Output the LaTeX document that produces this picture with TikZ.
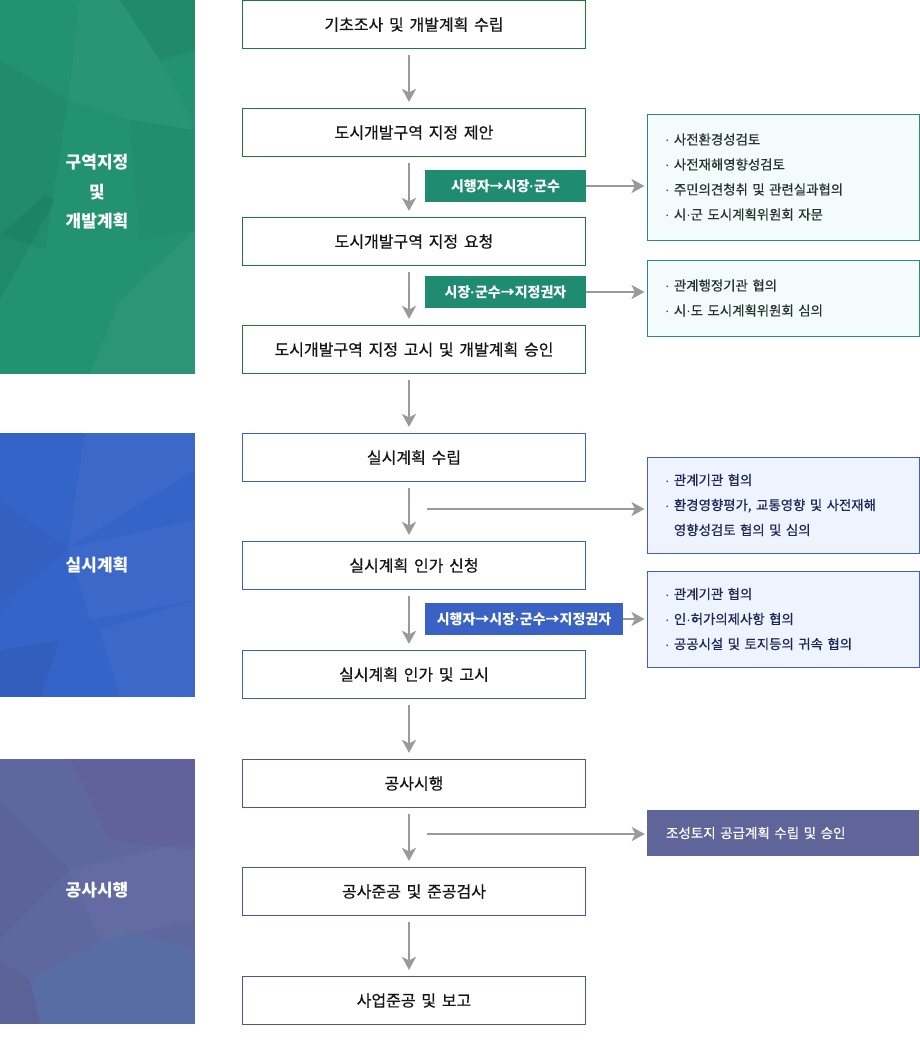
\documentclass[tikz,border=0pt]{standalone}
\usepackage{fontspec}
\setmainfont{Noto Sans CJK KR}
\newfontfamily\krmed{Noto Sans CJK KR}[FakeBold=0.5,WordSpace=1.6]
\newfontfamily\latinf{Liberation Sans}
\newcommand\mdot{{\latinf ·}}
\usetikzlibrary{arrows.meta}
\definecolor{gpanel}{HTML}{22926F}
\definecolor{bpanel}{HTML}{3564C8}
\definecolor{ppanel}{HTML}{5E679F}
\definecolor{gtag}{HTML}{1F8C72}
\definecolor{btag}{HTML}{3A62C4}
\definecolor{pbox}{HTML}{5F6599}
\definecolor{gborder}{HTML}{1C7A36}
\definecolor{bborder}{HTML}{3B5FC6}
\definecolor{pborder}{HTML}{4B5699}
\definecolor{gsideborder}{HTML}{2C8B78}
\definecolor{gsidefill}{HTML}{F3FCFA}
\definecolor{bsideborder}{HTML}{3E60C0}
\definecolor{bsidefill}{HTML}{EEF3FE}
\definecolor{arrowgray}{HTML}{9A9A9A}
\definecolor{gtext}{HTML}{26332E}
\definecolor{btext}{HTML}{1A2757}
\definecolor{darktext}{HTML}{151515}
\tikzset{
  mainbox/.style={draw, fill=white, line width=1.2pt, minimum width=343pt, minimum height=48pt, inner sep=0pt, text=darktext, font=\krmed\fontsize{16}{18}\selectfont},
  gbox/.style={mainbox, draw=gborder},
  bbox/.style={mainbox, draw=bborder},
  pbbox/.style={mainbox, draw=pborder},
  tagbox/.style={minimum height=32pt, inner sep=0pt, text=white, font=\bfseries\fontsize{14}{16}\selectfont},
  sidebox/.style={draw, line width=1pt, minimum width=272pt, text width=236pt, inner xsep=18pt, inner ysep=0pt, align=left, font=\krmed\fontsize{13.4}{25}\selectfont},
  gside/.style={sidebox, draw=gsideborder, fill=gsidefill, text=gtext},
  bside/.style={sidebox, draw=bsideborder, fill=bsidefill, text=btext},
  paneltext/.style={text=white, align=center, font=\bfseries\fontsize{17}{29.5}\selectfont},
  flow/.style={draw=arrowgray, line width=2.8pt, -{Stealth[length=13pt,width=14pt,inset=3.5pt]}},
  vflow/.style={flow, shorten <=6pt, shorten >=6pt}
}
\begin{document}
\begin{tikzpicture}[x=1pt,y=-1pt]
\useasboundingbox (0,0) rectangle (920,1058);
\fill[white] (0,0) rectangle (920,1058);

% ---- left panels with faceted texture ----
\begin{scope}
\clip (0,0) rectangle (195,374);
\fill[gpanel] (0,0) rectangle (195,374);
\fill[black,opacity=.05] (120,0) -- (195,0) -- (195,50) -- (160,60) -- cycle;
\fill[white,opacity=.03] (80,0) -- (120,0) -- (160,60) -- (68,100) -- cycle;
\fill[black,opacity=.035] (0,60) -- (68,100) -- (45,250) -- (0,235) -- cycle;
\fill[white,opacity=.03] (68,100) -- (160,60) -- (195,130) -- (130,120) -- cycle;
\fill[black,opacity=.06] (0,235) -- (45,195) -- (55,200) -- (0,300) -- cycle;
\fill[white,opacity=.04] (120,300) -- (195,230) -- (195,374) -- (90,374) -- cycle;
\fill[black,opacity=.025] (130,120) -- (195,130) -- (195,230) -- (140,240) -- cycle;
\end{scope}
\begin{scope}
\clip (0,433) rectangle (195,697);
\fill[bpanel] (0,433) rectangle (195,697);
\fill[white,opacity=.03] (85,433) -- (195,433) -- (195,470) -- (68,548) -- cycle;
\fill[black,opacity=.03] (0,500) -- (68,548) -- (0,610) -- cycle;
\fill[white,opacity=.035] (68,548) -- (195,520) -- (195,600) -- (90,620) -- cycle;
\fill[black,opacity=.05] (0,650) -- (60,640) -- (40,697) -- (0,697) -- cycle;
\fill[white,opacity=.03] (100,630) -- (195,600) -- (195,697) -- (120,697) -- cycle;
\end{scope}
\begin{scope}
\clip (0,759) rectangle (195,1024);
\fill[ppanel] (0,759) rectangle (195,1024);
\fill[magenta!40!blue,opacity=.08] (70,759) -- (195,759) -- (195,850) -- (110,840) -- cycle;
\fill[black,opacity=.03] (0,800) -- (70,870) -- (0,940) -- cycle;
\fill[white,opacity=.03] (70,870) -- (195,840) -- (195,920) -- (100,940) -- cycle;
\fill[cyan!60!teal,opacity=.12] (30,980) -- (120,930) -- (195,950) -- (195,1024) -- (40,1024) -- cycle;
\fill[black,opacity=.04] (0,960) -- (30,980) -- (40,1024) -- (0,1024) -- cycle;
\end{scope}

\node[paneltext] (pg) at (97,192) {구역지정\\및\\개발계획};
\node[paneltext] (pb) at (97,565) {실시계획};
\node[paneltext] (pp) at (97,890) {공사시행};

% ---- main flow boxes ----
\node[gbox] (m1) at (414,24.5) {기초조사 및 개발계획 수립};
\node[gbox] (m2) at (414,132.5) {도시개발구역 지정 제안};
\node[gbox] (m3) at (414,241.5) {도시개발구역 지정 요청};
\node[gbox] (m4) at (414,349.5) {도시개발구역 지정 고시 및 개발계획 승인};
\node[bbox] (m5) at (414,457.5) {실시계획 수립};
\node[bbox] (m6) at (414,565.5) {실시계획 인가 신청};
\node[bbox] (m7) at (414,674.5) {실시계획 인가 및 고시};
\node[pbbox] (m8) at (414,783.5) {공사시행};
\node[pbbox] (m9) at (414,891.5) {공사준공 및 준공검사};
\node[pbbox] (m10) at (414,1000.5) {사업준공 및 보고};

% ---- vertical arrows ----
\foreach \a/\b in {m1/m2,m2/m3,m3/m4,m4/m5,m5/m6,m6/m7,m7/m8,m8/m9,m9/m10}{
  \draw[vflow] ([xshift=-5pt]\a.south) -- ([xshift=-5pt]\b.north);
}

% ---- tags ----
\node[tagbox, fill=gtag, minimum width=161pt] (t1) at (505.5,186) {시행자→시장\mdot 군수};
\node[tagbox, fill=gtag, minimum width=161pt] (t2) at (505.5,292) {시장\mdot 군수→지정권자};
\node[tagbox, fill=btag, minimum width=198pt] (t3) at (524,619) {시행자→시장\mdot 군수→지정권자};

% ---- side boxes ----
\node[gside, minimum height=126pt] (s1) at (783,177) {\mdot\ 사전환경성검토\\\mdot\ 사전재해영향성검토\\\mdot\ 주민의견청취 및 관련실과협의\\\mdot\ 시\mdot 군 도시계획위원회 자문};
\node[gside, minimum height=76pt] (s2) at (783,298) {\mdot\ 관계행정기관 협의\\\mdot\ 시\mdot 도 도시계획위원회 심의};
\node[bside, minimum height=96pt] (s3) at (783,505) {\mdot\ 관계기관 협의\\\mdot\ 환경영향평가, 교통영향 및 사전재해\\\phantom{\mdot\ }영향성검토 협의 및 심의};
\node[bside, minimum height=96pt] (s4) at (783,619) {\mdot\ 관계기관 협의\\\mdot\ 인\mdot 허가의제사항 협의\\\mdot\ 공공시설 및 토지등의 귀속 협의};
\node[fill=pbox, minimum width=272pt, minimum height=46pt, text width=234pt, inner xsep=19pt, inner ysep=0pt, align=left, text=white, font=\krmed\fontsize{13.5}{16}\selectfont] (s5) at (783,833) {조성토지 공급계획 수립 및 승인};

% ---- horizontal arrows ----
\coordinate (h3) at (427,509);
\coordinate (h5) at (427,834);
\draw[flow, shorten >=2pt] (t1.east) -- (t1.east -| s1.west);
\draw[flow, shorten >=2pt] (t2.east) -- (t2.east -| s2.west);
\draw[flow, shorten >=2pt] (h3) -- (h3 -| s3.west);
\draw[flow, shorten >=2pt] (t3.east) -- (t3.east -| s4.west);
\draw[flow, shorten >=2pt] (h5) -- (h5 -| s5.west);
\end{tikzpicture}
\end{document}
